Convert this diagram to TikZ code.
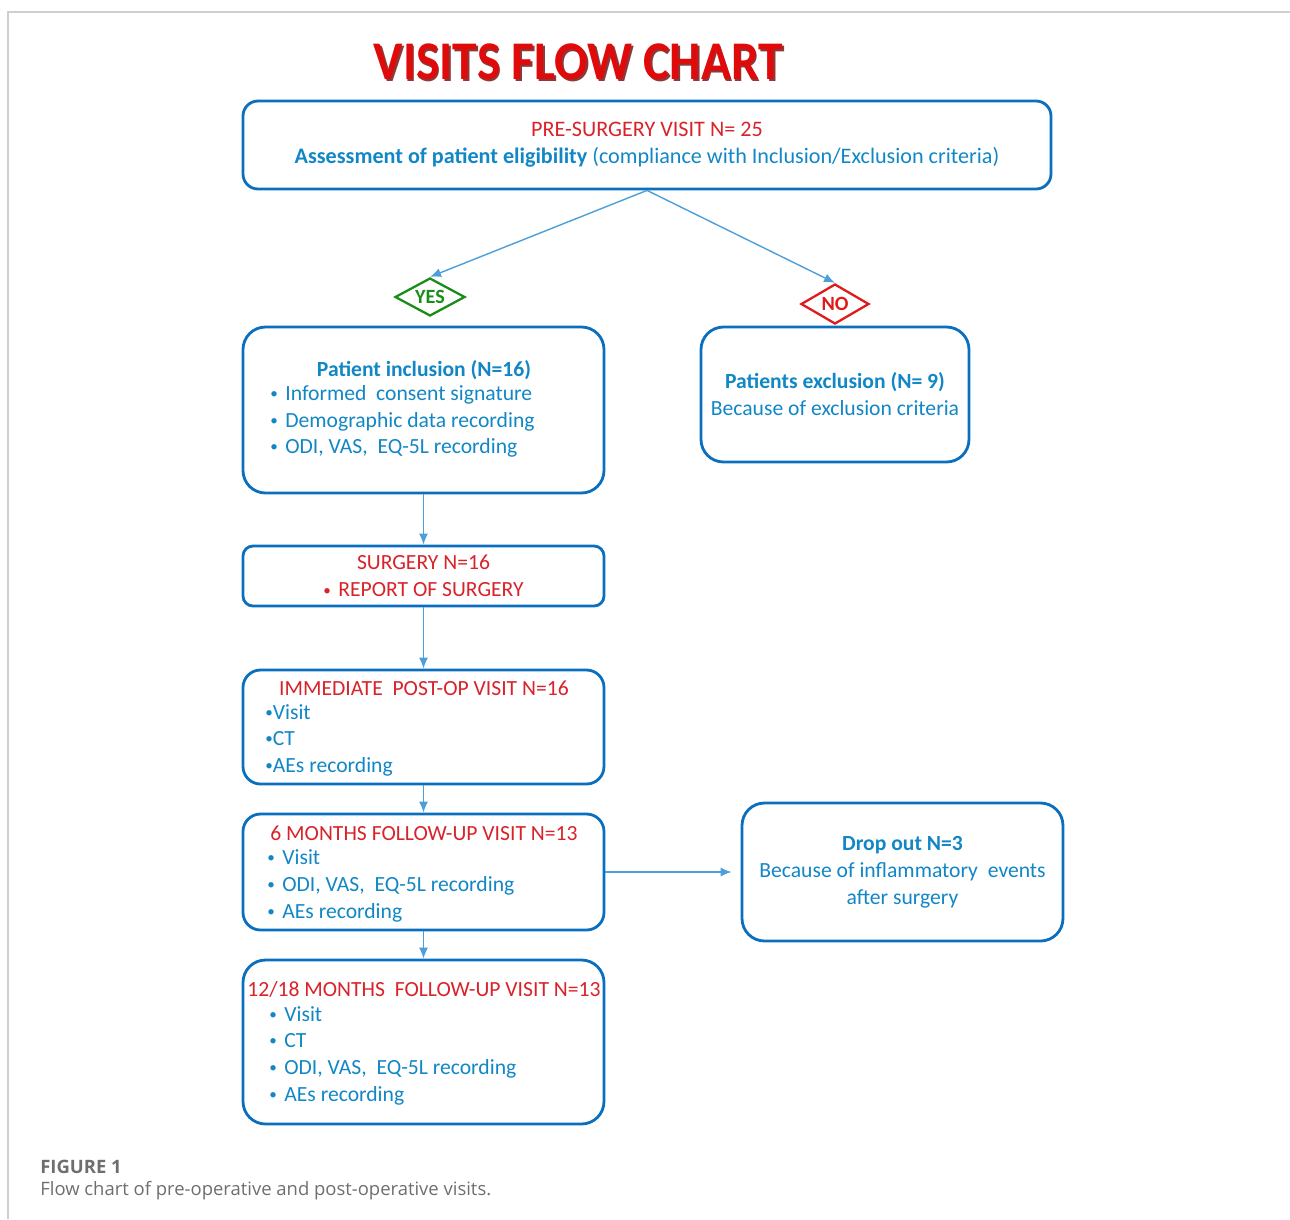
\documentclass[tikz,border=0pt]{standalone}
\usepackage{fontspec}
\usepackage{graphicx}
\setmainfont{Carlito}
\newfontfamily\captionfont{Open Sans}
\usetikzlibrary{arrows.meta,shapes.geometric}
\definecolor{boxborder}{HTML}{0B6FBF}
\definecolor{textblue}{HTML}{1287C6}
\definecolor{textred}{HTML}{D8232A}
\definecolor{titlered}{HTML}{E10A0A}
\definecolor{titleshade}{HTML}{8A3A3A}
\definecolor{flowline}{HTML}{4E9FD9}
\definecolor{yesgreen}{HTML}{1A8C1A}
\definecolor{nored}{HTML}{E01A1A}
\definecolor{framegray}{HTML}{CFCFCF}
\definecolor{captiongray}{HTML}{6E6E6E}
\newcommand{\bodysize}{\fontsize{12.3}{15.4}\selectfont}
\newcommand{\smalldot}{\raisebox{0.12ex}{\scalebox{0.7}{\textbullet}}}
\newcommand{\itemdot}{\makebox[0.3cm][l]{\smalldot}}
\tikzset{
  visit/.style={rectangle, rounded corners=0.45cm, draw=boxborder, line width=1.6pt, fill=white, align=center, text=textblue, font=\bodysize, inner sep=0pt},
  heading/.style={inner sep=0pt, text=textred, font=\bodysize},
  item/.style={anchor=west, inner sep=0pt, text=textblue, font=\bodysize, text height=1.6ex, text depth=0.4ex},
  yes/.style={diamond, shape aspect=2, draw=yesgreen, line width=1.3pt, text=yesgreen, font=\fontsize{11.5}{12}\selectfont\bfseries, minimum width=1.4cm, minimum height=0.76cm, inner sep=0pt},
  no/.style={diamond, shape aspect=2, draw=nored, line width=1.3pt, text=nored, font=\fontsize{11.5}{12}\selectfont\bfseries, minimum width=1.36cm, minimum height=0.8cm, inner sep=0pt},
  flow/.style={-{Latex[length=2.2mm,width=1.8mm]}, line width=0.8pt, draw=flowline}
}
\begin{document}
\begin{tikzpicture}
\useasboundingbox (0,0) rectangle (25.8,-24.38);
\draw[framegray, line width=1pt] (25.8,-0.24) -- (0.16,-0.24) -- (0.16,-24.38);

% title
\node[text=titleshade, font=\fontsize{31}{31}\selectfont\bfseries] (titleshadow) at (11.60,-1.27) {\scalebox{0.91}[1]{VISITS FLOW CHART}};
\node[text=titlered, font=\fontsize{31}{31}\selectfont\bfseries] (title) at (11.57,-1.24) {\scalebox{0.91}[1]{VISITS FLOW CHART}};

% boxes
\node[visit, rounded corners=0.3cm, minimum width=16.16cm, minimum height=1.76cm, font=\fontsize{12.6}{15.4}\selectfont] (pre) at (12.94,-2.90) {\textcolor{textred}{PRE-SURGERY VISIT N= 25}\\ \textbf{Assessment of patient eligibility} (compliance with Inclusion/Exclusion criteria)};
\node[yes] (yes) at (8.60,-5.94) {YES};
\node[no] (no) at (16.70,-6.08) {NO};

\node[visit, minimum width=7.22cm, minimum height=3.32cm] (incl) at (8.47,-8.20) {};
\node[heading, text=textblue, font=\bodysize\bfseries] (inclhead) at (8.48,-7.40) {Patient inclusion (N=16)};
\foreach \y/\txt [count=\i] in {7.90/Informed\ \ consent signature, 8.44/Demographic data recording, 8.96/{ODI, VAS,\ \ EQ-5L recording}} {
  \node[item] (incl\i) at (5.40,-\y) {\itemdot\txt};
}

\node[visit, minimum width=5.36cm, minimum height=2.70cm] (excl) at (16.70,-7.89) {\textbf{Patients exclusion (N= 9)}\\Because of exclusion criteria};

\node[visit, rounded corners=0.2cm, minimum width=7.22cm, minimum height=1.20cm, text=textred] (surg) at (8.47,-11.52) {SURGERY N=16\\\itemdot REPORT OF SURGERY};

\node[visit, rounded corners=0.35cm, minimum width=7.22cm, minimum height=2.28cm] (imm) at (8.47,-14.54) {};
\node[heading] (immhead) at (8.48,-13.76) {IMMEDIATE\ \ POST-OP VISIT N=16};
\foreach \y/\txt [count=\i] in {14.28/Visit, 14.80/CT, 15.34/AEs recording} {
  \node[item] (imm\i) at (5.30,-\y) {\smalldot\txt};
}

\node[visit, rounded corners=0.35cm, minimum width=7.22cm, minimum height=2.32cm] (six) at (8.47,-17.44) {};
\node[heading] (sixhead) at (8.48,-16.66) {6 MONTHS FOLLOW-UP VISIT N=13};
\foreach \y/\txt [count=\i] in {17.18/Visit, 17.72/{ODI, VAS,\ \ EQ-5L recording}, 18.26/AEs recording} {
  \node[item] (six\i) at (5.34,-\y) {\itemdot\txt};
}

\node[visit, minimum width=6.42cm, minimum height=2.76cm] (drop) at (18.05,-17.44) {\textbf{Drop out N=3}\\Because of inflammatory\ \ events\\after surgery};

\node[visit, minimum width=7.22cm, minimum height=3.28cm] (twelve) at (8.47,-20.84) {};
\node[heading] (twelvehead) at (8.48,-19.78) {12/18 MONTHS\ \ FOLLOW-UP VISIT N=13};
\foreach \y/\txt [count=\i] in {20.32/Visit, 20.84/CT, 21.38/{ODI, VAS,\ \ EQ-5L recording}, 21.92/AEs recording} {
  \node[item] (twelve\i) at (5.38,-\y) {\itemdot\txt};
}

% connectors
\draw[flow] (pre.south) -- (yes.north);
\draw[flow] (pre.south) -- (no.north);
\draw[flow] (incl.south -| surg.north) -- (surg.north);
\draw[flow] (surg.south) -- (imm.north);
\draw[flow] (imm.south) -- (six.north);
\draw[flow] (six.south) -- (twelve.north);
\draw[flow, shorten >=0.18cm] (six.east) -- (drop.west);

% caption
\node[anchor=west, inner sep=0pt, text=captiongray, font=\captionfont\fontsize{10.5}{12}\selectfont\bfseries] (figlabel) at (0.80,-23.34) {FIGURE 1};
\node[anchor=west, inner sep=0pt, text=captiongray, font=\captionfont\fontsize{10.5}{12}\selectfont] (figcaption) at (0.80,-23.82) {Flow chart of pre-operative and post-operative visits.};

\end{tikzpicture}
\end{document}
